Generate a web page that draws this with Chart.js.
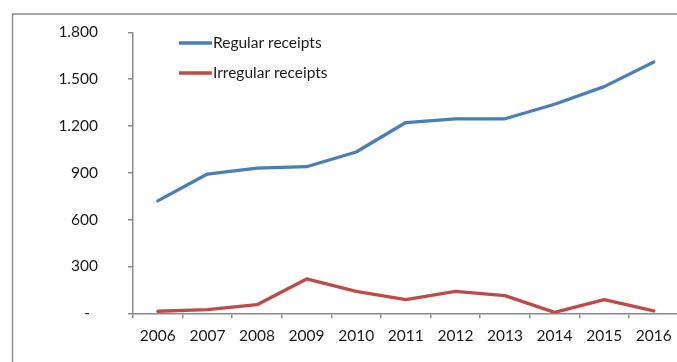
<!DOCTYPE html>
<html>
<head>
<meta charset="utf-8">
<script src="https://cdn.jsdelivr.net/npm/chart.js@4"></script>
<style>
  html, body { margin: 0; padding: 0; background: #fff; overflow: hidden; }
  #wrap { position: relative; width: 690px; height: 362px; }
</style>
</head>
<body>
<div id="wrap"><canvas id="grafico" width="690" height="362"></canvas></div>
<script>
const anos = ["2006", "2007", "2008", "2009", "2010", "2011", "2012", "2013", "2014", "2015", "2016"];
const regulares = [720, 892, 930, 939, 1033, 1222, 1246, 1246, 1339, 1452, 1610];
const irregulares = [13, 23, 55, 220, 141, 88, 141, 113, 6, 88, 15];
const rotulosY = ["-  ", "300", "600", "900", "1.200", "1.500", "1.800"];

const fonte = { family: "Lato, 'Open Sans', sans-serif", size: 15.5 };
const corEixo = "#8a8a8a";

// borda externa (só topo e esquerda aparecem) + legenda dentro da área
const extras = {
  id: "extras",
  beforeDraw(chart) {
    const ctx = chart.ctx;
    ctx.save();
    ctx.strokeStyle = "#8c8c8c";
    ctx.lineWidth = 1.5;
    ctx.beginPath();
    ctx.moveTo(12.5, chart.height);
    ctx.lineTo(12.5, 14);
    ctx.lineTo(chart.width, 14);
    ctx.stroke();
    ctx.restore();
  },
  afterDraw(chart) {
    const ctx = chart.ctx;
    ctx.save();
    ctx.font = `${fonte.size}px ${fonte.family}`;
    ctx.textBaseline = "middle";
    ctx.textAlign = "left";
    chart.data.datasets.forEach((ds, i) => {
      const y = 43 + i * 30;
      ctx.strokeStyle = ds.borderColor;
      ctx.lineWidth = 3.3;
      ctx.beginPath();
      ctx.moveTo(179, y);
      ctx.lineTo(212, y);
      ctx.stroke();
      ctx.fillStyle = "#1a1a1a";
      ctx.fillText(ds.label, 213, y);
    });
    ctx.restore();
  }
};

new Chart(document.getElementById("grafico").getContext("2d"), {
  type: "line",
  data: {
    labels: anos,
    datasets: [
      { label: "Regular receipts", data: regulares, borderColor: "#4A7EBB", borderWidth: 3.3 },
      { label: "Irregular receipts", data: irregulares, borderColor: "#BE4B48", borderWidth: 3.3 }
    ]
  },
  options: {
    responsive: false,
    animation: false,
    layout: { padding: { top: 32.3, right: 11.4, bottom: 0, left: 0 } },
    elements: {
      point: { radius: 0 },
      line: { tension: 0, borderJoinStyle: "round", borderCapStyle: "round" }
    },
    plugins: { legend: { display: false }, tooltip: { enabled: false } },
    scales: {
      x: {
        offset: true,
        afterFit(scale) { scale.height = 48.7; },
        grid: { offset: true, drawOnChartArea: false, tickLength: 5, color: corEixo, lineWidth: 1.5 },
        border: { color: corEixo, width: 1.5 },
        ticks: { color: "#1a1a1a", font: fonte, padding: 8, maxRotation: 0 }
      },
      y: {
        min: 0,
        max: 1800,
        // largura fixa e sem a folga vertical que o padding dos rótulos cria
        afterFit(scale) {
          scale.width = 133;
          scale.paddingTop = 0;
          scale.paddingBottom = 0;
        },
        grid: { drawOnChartArea: false, tickLength: 5, color: corEixo, lineWidth: 1.5 },
        border: { color: corEixo, width: 1.5 },
        ticks: {
          stepSize: 300,
          color: "#1a1a1a",
          font: fonte,
          padding: 30,
          callback: (v, i) => rotulosY[i]
        }
      }
    }
  },
  plugins: [extras]
});
</script>
</body>
</html>
